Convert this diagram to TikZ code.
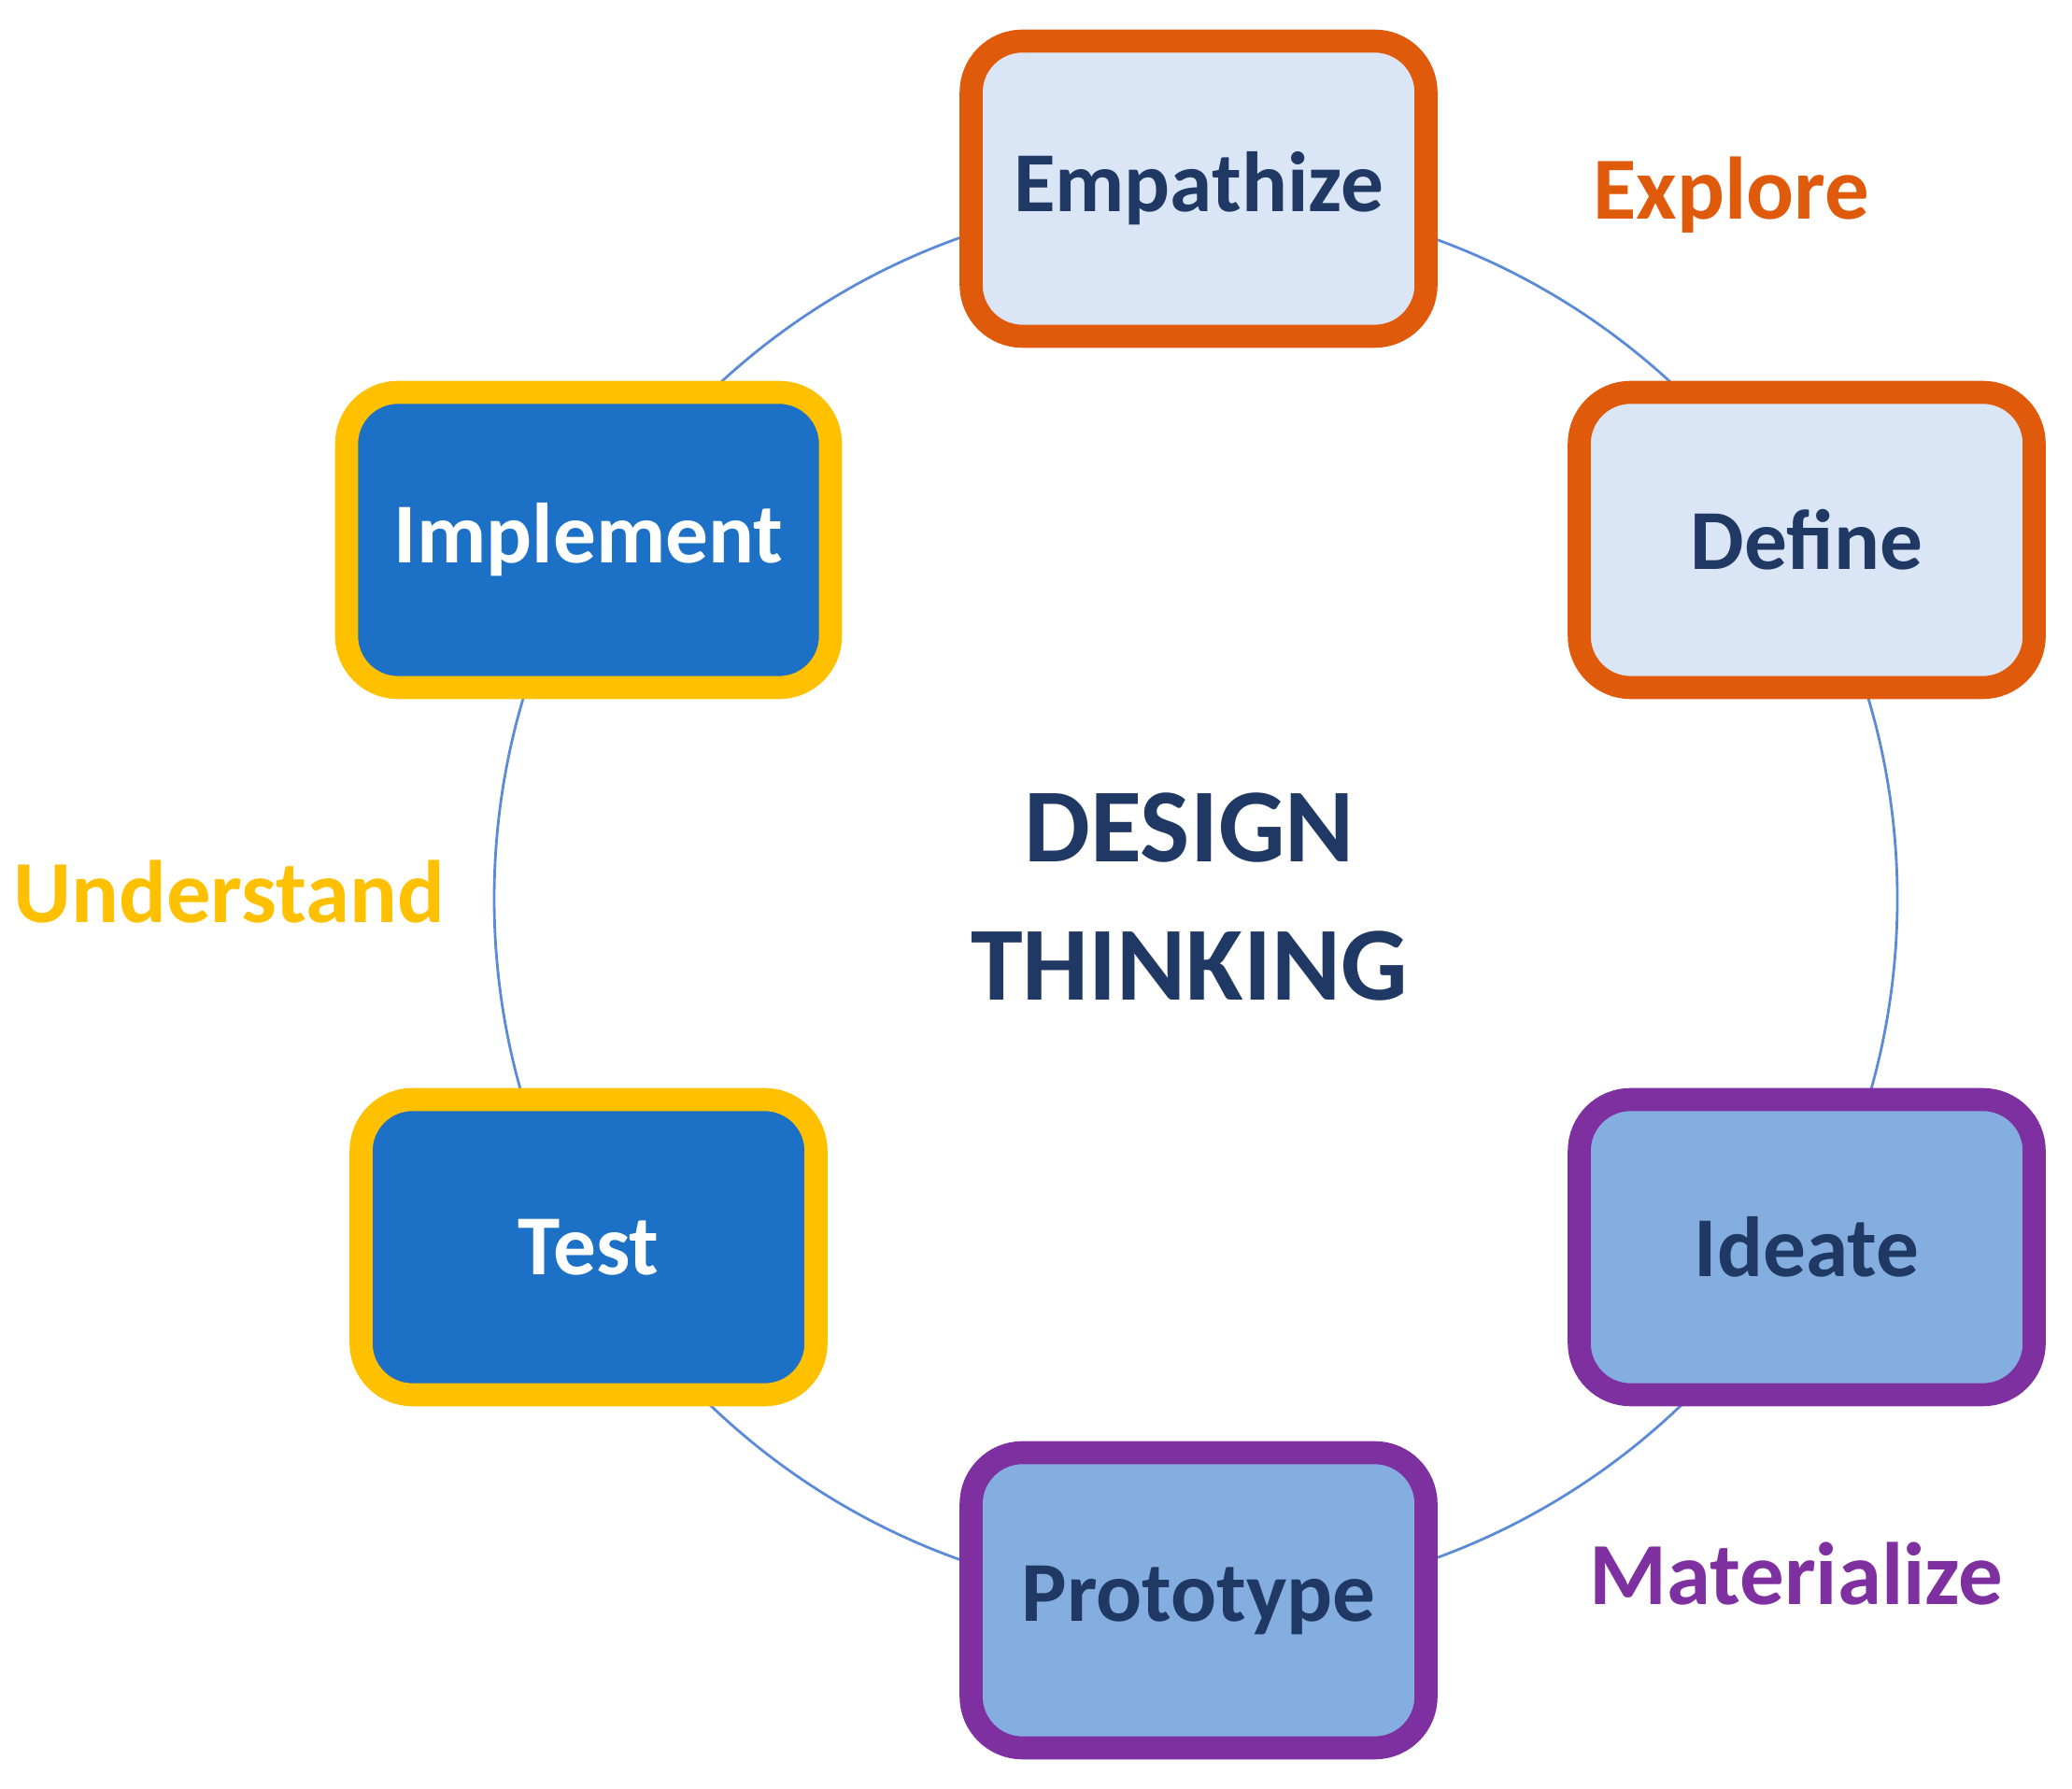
\documentclass[tikz,border=0pt]{standalone}
\usepackage{fontspec}
\setmainfont{Carlito}
\usetikzlibrary{positioning}
\definecolor{dtorange}{HTML}{E05A0C}
\definecolor{dtyellow}{HTML}{FFC000}
\definecolor{dtpurple}{HTML}{7E30A0}
\definecolor{dtpale}{HTML}{DAE6F5}
\definecolor{dtmid}{HTML}{84AEE0}
\definecolor{dtdark}{HTML}{1C70C6}
\definecolor{dtnavy}{HTML}{1F3864}
\definecolor{dtring}{HTML}{5B8BD6}
\tikzset{
  stage/.style={draw,rounded corners=0.55cm,line width=7pt,minimum width=4.87cm,
    minimum height=3.16cm,font=\bfseries\fontsize{26}{30}\selectfont},
  phase/.style={font=\bfseries\fontsize{27}{32}\selectfont}
}
\begin{document}
\begin{tikzpicture}
    \useasboundingbox (0,0) rectangle (22.18,19.15);

    \coordinate (c) at (12.80,9.53);
    \draw[dtring,line width=0.8pt] (c) circle (7.51);

    \node[stage,draw=dtorange,fill=dtpale,text=dtnavy](emp) at (12.83,17.13){Empathize};
    \node[stage,draw=dtorange,fill=dtpale,text=dtnavy](def) at (19.34,13.37){Define};
    \node[stage,draw=dtpurple,fill=dtmid,text=dtnavy](ide) at (19.34,5.80){Ideate};
    \node[stage,draw=dtpurple,fill=dtmid,text=dtnavy](pro) at (12.83,2.02){Prototype};
    \node[stage,draw=dtyellow,fill=dtdark,text=white](tst) at (6.30,5.80){Test};
    \node[stage,draw=dtyellow,fill=dtdark,text=white,minimum width=5.18cm](imp) at (6.30,13.37){Implement};

    \node[phase,text=dtorange](exp) at (18.53,17.06){Explore};
    \node[phase,text=dtyellow](und) at (2.45,9.60){Understand};
    \node[phase,text=dtpurple](mat) at (19.23,2.30){Materialize};

    \node[align=center,text=dtnavy,font=\bfseries\fontsize{32}{42}\selectfont](dt) at (12.73,9.55){DESIGN\\THINKING};

\end{tikzpicture}
\end{document}
